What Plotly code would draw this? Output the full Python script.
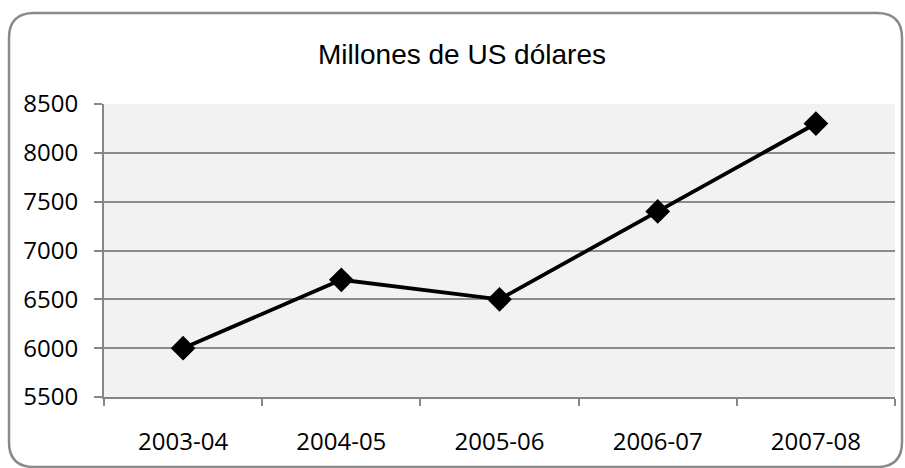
import plotly.graph_objects as go

categories = ["2003-04", "2004-05", "2005-06", "2006-07", "2007-08"]
values = [6000, 6700, 6500, 7400, 8300]
y_ticks = [5500, 6000, 6500, 7000, 7500, 8000, 8500]
title_text = "Millones de US dólares"

W, H = 905, 468
L, R, T, B = 104, 10, 104, 71
pw, ph = W - L - R, H - T - B


def px(x):
    return (x - L) / pw


def py(y):
    return (H - B - y) / ph


def rounded_rect(x0, y0, x1, y1, r):
    pts = [
        f"M {px(x0 + r)},{py(y0)}",
        f"L {px(x1 - r)},{py(y0)}",
        f"Q {px(x1)},{py(y0)} {px(x1)},{py(y0 + r)}",
        f"L {px(x1)},{py(y1 - r)}",
        f"Q {px(x1)},{py(y1)} {px(x1 - r)},{py(y1)}",
        f"L {px(x0 + r)},{py(y1)}",
        f"Q {px(x0)},{py(y1)} {px(x0)},{py(y1 - r)}",
        f"L {px(x0)},{py(y0 + r)}",
        f"Q {px(x0)},{py(y0)} {px(x0 + r)},{py(y0)}",
        "Z",
    ]
    return " ".join(pts)


fig = go.Figure()
fig.add_trace(go.Scatter(
    x=categories, y=values, mode="lines+markers",
    line=dict(color="black", width=3.8),
    marker=dict(symbol="diamond", size=19, color="black"),
    showlegend=False, hoverinfo="x+y",
))

fig.update_layout(
    width=W, height=H,
    margin=dict(l=L, r=R, t=T, b=B, pad=0),
    paper_bgcolor="white",
    plot_bgcolor="#F2F2F2",
    title=dict(text=title_text, x=462 / W, xanchor="center", y=1 - 54 / H, yanchor="middle",
               font=dict(family="Liberation Sans, Arial", size=28, color="black")),
    font=dict(family="Open Sans", size=24, color="black"),
    xaxis=dict(
        type="category", range=[-0.5, 4.5], tickson="boundaries",
        ticks="outside", ticklen=7, tickcolor="#868686", tickwidth=2,
        ticklabelstandoff=22,
        showline=True, linecolor="#868686", linewidth=2,
        showgrid=False, zeroline=False, fixedrange=True,
        tickfont=dict(family="Open Sans", size=24, color="black"),
    ),
    yaxis=dict(
        range=[5500, 8500], tickvals=y_ticks, ticktext=[str(v) for v in y_ticks],
        ticks="outside", ticklen=8, tickcolor="#868686", tickwidth=2,
        ticklabelstandoff=11,
        showline=True, linecolor="#868686", linewidth=2,
        showgrid=True, gridcolor="#8C8C8C", gridwidth=1.5,
        zeroline=False, fixedrange=True,
        tickfont=dict(family="Open Sans", size=24, color="black"),
    ),
    shapes=[dict(
        type="path", xref="paper", yref="paper",
        path=rounded_rect(9, 13, 902, 467, 25),
        line=dict(color="#8A8A8A", width=2.5), fillcolor="rgba(0,0,0,0)",
        layer="below",
    )],
)

fig.write_html("out.html", config={"displayModeBar": False})
